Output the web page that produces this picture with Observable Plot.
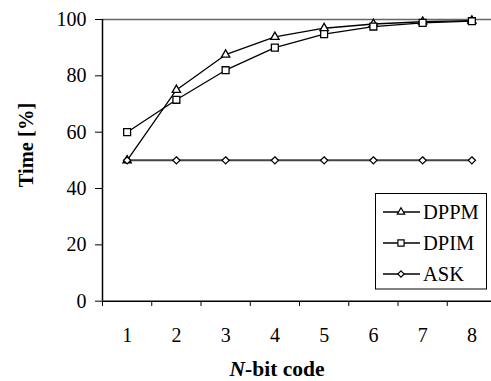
<!DOCTYPE html>
<html>
<head>
<meta charset="utf-8">
<script src="https://cdn.jsdelivr.net/npm/d3@7"></script>
<script src="https://cdn.jsdelivr.net/npm/@observablehq/plot@0.6"></script>
<style>
  html, body { margin: 0; padding: 0; background: #fff; overflow: hidden; }
  svg { display: block; }
  #chart svg, #chart svg text { font-family: "Liberation Serif", "Times New Roman", serif !important; }
</style>
</head>
<body>
<div id="chart"></div>
<script>
const codes = [1, 2, 3, 4, 5, 6, 7, 8];
const dppm = [50, 75, 87.5, 93.8, 96.9, 98.4, 99.2, 99.6];
const dpim = [60, 71.5, 82, 90, 94.8, 97.5, 98.8, 99.4];
const ask = [50, 50, 50, 50, 50, 50, 50, 50];
const seriesNames = ["DPPM", "DPIM", "ASK"];
const yTicks = [0, 20, 40, 60, 80, 100];
const xLabel = ["N", "-bit code"];
const yLabel = "Time [%]";

const rows = [];
[dppm, dpim, ask].forEach((vals, i) => {
  codes.forEach((c, j) => rows.push({series: seriesNames[i], code: c, value: vals[j]}));
});

// open diamond (square rotated 45°)
const diamond2 = {
  draw(context, size) {
    const r = Math.sqrt(size) * 0.62625;
    context.moveTo(0, -r); context.lineTo(r, 0); context.lineTo(0, r); context.lineTo(-r, 0); context.closePath();
  }
};
const symbolFor = {DPPM: d3.symbolTriangle, DPIM: d3.symbolSquare, ASK: diamond2};
const rFor = {DPPM: 3.1, DPIM: 3.9, ASK: 3.2};

const boundaries = d3.range(0.5, 9, 1);

const plot = Plot.plot({
  width: 491,
  height: 381,
  marginLeft: 102,
  marginTop: 19,
  marginBottom: 80,
  marginRight: 0,
  style: {fontFamily: "Liberation Serif", fontSize: "20px", background: "#fff", color: "#000"},
  x: {type: "linear", domain: [0.5, 8.5], range: [102, 496]},
  y: {domain: [0, 100], range: [300.7, 19]},
  marks: [
    Plot.ruleY([100], {stroke: "#666", strokeWidth: 1.5}),
    Plot.axisY(yTicks, {tickSize: 7, tickPadding: 9, fontSize: 20, label: null, tickFormat: d => String(d)}),
    Plot.axisX(boundaries, {tickSize: 5, tickFormat: () => "", label: null}),
    Plot.axisX(codes, {tickSize: 0, tickPadding: 26, fontSize: 20, label: null, tickFormat: d => String(d)}),
    Plot.ruleX([0.5], {y1: 0, y2: 100, stroke: "#000", strokeWidth: 1.5}),
    Plot.ruleY([0], {stroke: "#000", strokeWidth: 1.5}),
    Plot.line(rows.filter(d => d.series === "ASK"), {x: "code", y: "value", stroke: "#444", strokeWidth: 2}),
    Plot.line(rows.filter(d => d.series !== "ASK"), {x: "code", y: "value", z: "series", stroke: "#000", strokeWidth: 1.3}),
    ...seriesNames.map(s => Plot.dot(rows.filter(d => d.series === s), {
      x: "code", y: "value", symbol: () => symbolFor[s], r: rFor[s], fill: "#fff", stroke: "#000", strokeWidth: 1.3
    }))
  ]
});

document.getElementById("chart").appendChild(plot);

const svg = d3.select(plot);
// axis titles
svg.append("text")
  .attr("transform", "translate(33,145) rotate(-90)")
  .attr("text-anchor", "middle")
  .attr("font-weight", "bold")
  .attr("font-size", 20.5)
  .attr("fill", "#000")
  .text(yLabel);

const xl = svg.append("text")
  .attr("x", 277).attr("y", 376)
  .attr("text-anchor", "middle")
  .attr("font-weight", "bold")
  .attr("font-size", 21.5)
  .attr("fill", "#000");
xl.append("tspan").attr("font-style", "italic").text(xLabel[0]);
xl.append("tspan").text(xLabel[1]);

// legend
const lg = svg.append("g");
lg.append("rect").attr("x", 375.5).attr("y", 193.5).attr("width", 111).attr("height", 95.5)
  .attr("fill", "#fff").attr("stroke", "#000").attr("stroke-width", 1);
seriesNames.forEach((s, i) => {
  const cy = 212 + i * 31;
  lg.append("line").attr("x1", 383).attr("x2", 420).attr("y1", cy).attr("y2", cy)
    .attr("stroke", "#000").attr("stroke-width", 1.3);
  lg.append("path").attr("transform", `translate(401,${cy})`)
    .attr("d", d3.symbol(symbolFor[s], Math.PI * rFor[s] * rFor[s] * 0.8)())
    .attr("fill", "#fff").attr("stroke", "#000").attr("stroke-width", 1.2);
  lg.append("text").attr("x", 423).attr("y", cy).attr("dy", "0.35em")
    .attr("text-anchor", "start")
    .attr("font-size", 20.5).attr("fill", "#000").text(s);
});
</script>
</body>
</html>
